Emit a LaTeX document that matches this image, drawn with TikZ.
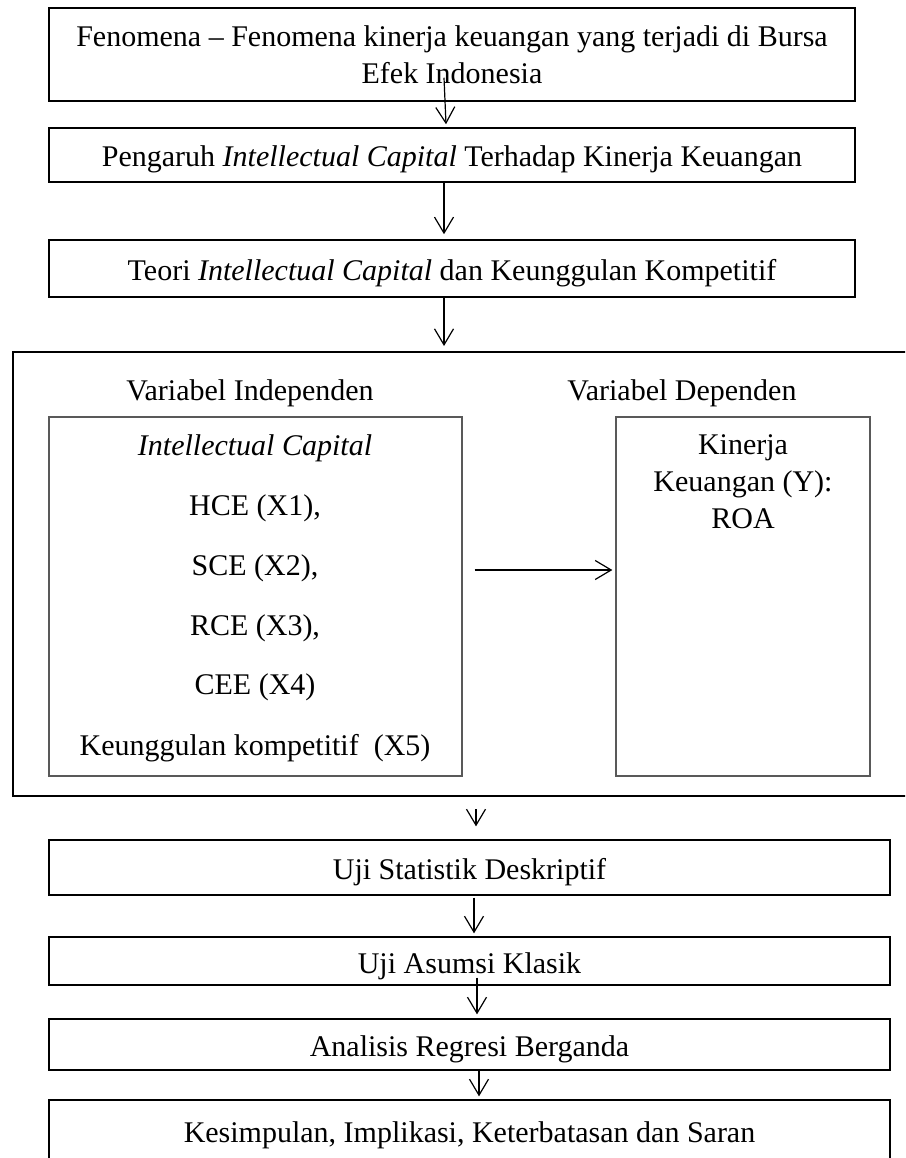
\documentclass[tikz,border=0pt]{standalone}
\usepackage{fontspec}
\setmainfont{Liberation Serif}
\usetikzlibrary{arrows.meta}

\begin{document}
\begin{tikzpicture}[x=1pt,y=-1pt,
  every node/.style={font=\fontsize{30}{37}\selectfont, inner sep=0pt, text height=27pt, text depth=3pt},
  multi/.style={align=center, text height={}, text depth={}},
  stepbox/.style={draw, line width=1.5pt, minimum width=806pt},
  widebox/.style={draw, line width=1.3pt, minimum width=841pt},
  varbox/.style={draw=black!65, line width=1.3pt, minimum height=359pt},
  arr/.style={-{Straight Barb[length=16pt,width=19pt]}, line width=1.2pt}]
\useasboundingbox (0,0) rectangle (905,1158);
\clip (0,0) rectangle (905,1158);
% upper steps
\node[stepbox, multi, minimum height=93pt] (fen) at (452,54.5)
  {Fenomena -- Fenomena kinerja keuangan yang terjadi di Bursa\\Efek Indonesia};
\node[stepbox, minimum height=54pt] (pen) at (452,155)
  {Pengaruh \textit{Intellectual Capital} Terhadap Kinerja Keuangan};
\node[stepbox, minimum height=57pt] (teori) at (452,268.5)
  {Teori \textit{Intellectual Capital} dan Keunggulan Kompetitif};
% variables
\node[draw, line width=2pt, minimum width=917pt, minimum height=444pt] (frame) at (471.5,574) {};
\node (indep) at (250,388) {Variabel Independen};
\node (dep) at (682,388) {Variabel Dependen};
\node[varbox, minimum width=413pt] (icbox) at (255.5,596.5) {};
\node[varbox, minimum width=254pt] (ybox) at (743,596.5) {};
\node (ic) at (255,443) {\textit{Intellectual Capital}};
\node (hce) at (255,503) {HCE (X1),};
\node (sce) at (255,563) {SCE (X2),};
\node (rce) at (255,623) {RCE (X3),};
\node (cee) at (255,682) {CEE (X4)};
\node (ku) at (255,743) {Keunggulan kompetitif\ \ (X5)};
\node[multi] (roa) at (743,482) {Kinerja\\Keuangan (Y):\\ROA};
% lower steps
\node[widebox, minimum height=55pt] (uji1) at (469.5,867.5) {Uji Statistik Deskriptif};
\node[widebox, minimum height=48pt] (uji2) at (469.5,961) {Uji Asumsi Klasik};
\node[widebox, minimum height=51pt] (reg) at (469.5,1044.5) {Analisis Regresi Berganda};
\node[widebox, minimum height=60pt] (kes) at (469.5,1130) {Kesimpulan, Implikasi, Keterbatasan dan Saran};
% arrows
\draw[arr] ([xshift=-8pt,yshift=24pt]fen.south) -- ([xshift=-6pt,yshift=3pt]pen.north);
\draw[arr] ([xshift=-8pt]pen.south) -- ([xshift=-8pt,yshift=5pt]teori.north);
\draw[arr] ([xshift=-8pt]teori.south) -- ([xshift=-27.5pt,yshift=5pt]frame.north);
\draw[arr] ([xshift=12pt,yshift=26.5pt]icbox.east) -- ([xshift=-3pt,yshift=26.5pt]ybox.west);
\draw[arr] ([xshift=4.5pt,yshift=-12pt]frame.south) -- ([xshift=6.5pt,yshift=13pt]uji1.north);
\draw[arr] ([xshift=4.5pt,yshift=-2pt]uji1.south) -- ([xshift=4.5pt,yshift=3pt]uji2.north);
\draw[arr] ([xshift=7.5pt,yshift=8pt]uji2.south) -- ([xshift=7.5pt,yshift=4pt]reg.north);
\draw[arr] ([xshift=9.5pt]reg.south) -- ([xshift=9.5pt,yshift=3pt]kes.north);
\end{tikzpicture}
\end{document}
